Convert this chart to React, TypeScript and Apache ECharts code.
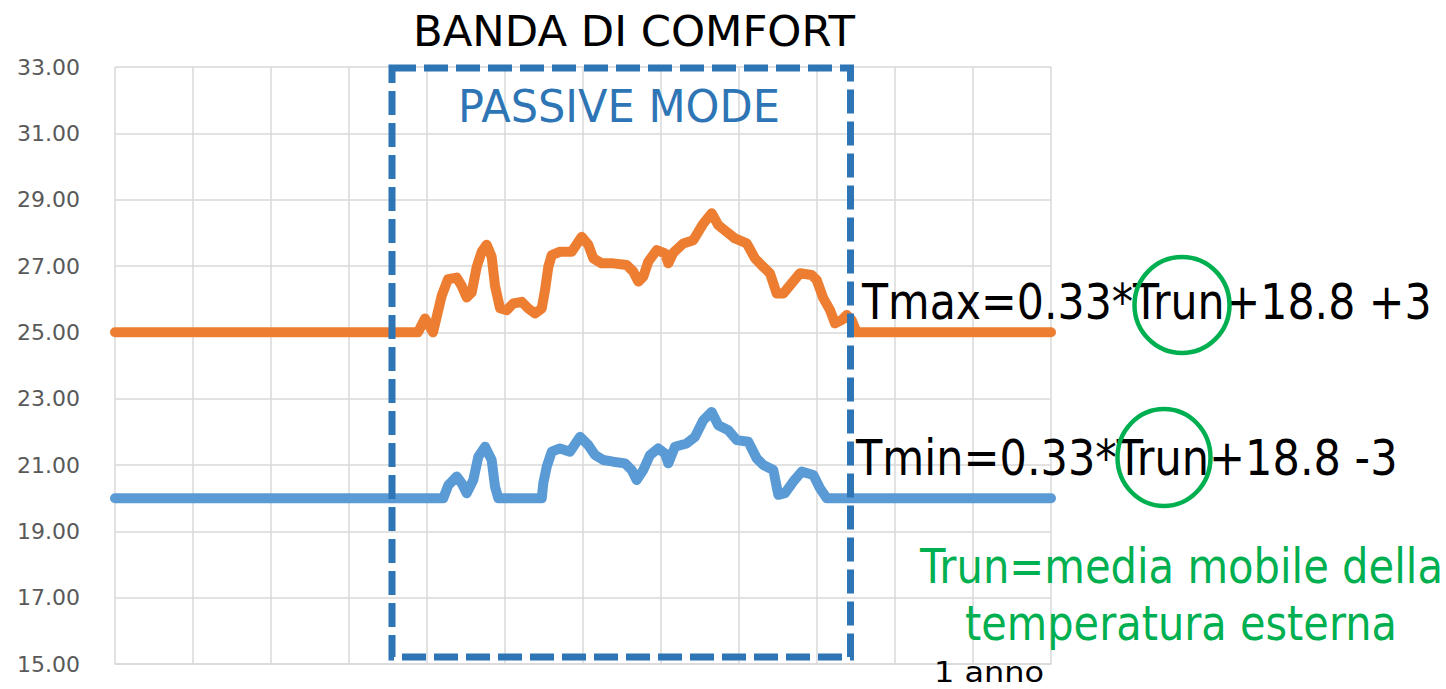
import React, { useEffect, useRef } from "react";
import * as echarts from "echarts";

// x = months over one year (0..12), y = temperature °C
const yTicks = { min: 15, max: 33, step: 2 };
const xTicks = { min: 0, max: 12, step: 1 };

const tmaxSeries: [number, number][] = [
  [0, 25], [3.885, 25], [3.974, 25.42], [4.077, 25.0], [4.188, 26.1], [4.269, 26.6],
  [4.381, 26.65], [4.445, 26.4], [4.509, 26.05], [4.573, 26.2], [4.637, 26.97],
  [4.701, 27.43], [4.765, 27.64], [4.829, 27.28], [4.872, 26.4], [4.936, 25.73],
  [5.022, 25.67], [5.106, 25.87], [5.214, 25.92], [5.299, 25.72], [5.385, 25.57],
  [5.471, 25.72], [5.513, 26.27], [5.555, 26.97], [5.599, 27.33], [5.705, 27.43],
  [5.855, 27.43], [5.983, 27.88], [6.068, 27.64], [6.132, 27.23], [6.24, 27.08],
  [6.388, 27.08], [6.56, 27.03], [6.645, 26.83], [6.709, 26.53], [6.773, 26.68],
  [6.837, 27.13], [6.945, 27.48], [7.051, 27.38], [7.094, 27.08], [7.158, 27.4],
  [7.286, 27.68], [7.414, 27.78], [7.542, 28.28], [7.65, 28.59], [7.735, 28.23],
  [7.842, 28.03], [7.949, 27.83], [8.099, 27.68], [8.205, 27.23], [8.312, 26.97],
  [8.397, 26.78], [8.483, 26.17], [8.568, 26.17], [8.676, 26.48], [8.782, 26.78],
  [8.932, 26.73], [8.996, 26.58], [9.081, 26.03], [9.167, 25.67], [9.231, 25.27],
  [9.317, 25.37], [9.381, 25.52], [9.445, 25.37], [9.509, 25.0], [12, 25],
];

const tminSeries: [number, number][] = [
  [0, 20], [4.209, 20], [4.273, 20.39], [4.381, 20.65], [4.445, 20.45], [4.509, 20.15],
  [4.594, 20.55], [4.658, 21.25], [4.744, 21.55], [4.829, 21.15], [4.872, 20.35],
  [4.914, 20.0], [5.471, 20.0], [5.491, 20.45], [5.535, 20.95], [5.599, 21.4],
  [5.705, 21.5], [5.833, 21.4], [5.962, 21.85], [6.068, 21.6], [6.154, 21.3],
  [6.26, 21.15], [6.388, 21.1], [6.538, 21.05], [6.624, 20.85], [6.688, 20.55],
  [6.773, 20.85], [6.859, 21.3], [6.965, 21.5], [7.051, 21.35], [7.094, 21.05],
  [7.179, 21.55], [7.329, 21.65], [7.436, 21.85], [7.542, 22.35], [7.65, 22.6],
  [7.735, 22.2], [7.863, 22.05], [7.971, 21.75], [8.119, 21.7], [8.227, 21.2],
  [8.312, 21.0], [8.44, 20.85], [8.504, 20.1], [8.59, 20.15], [8.696, 20.5],
  [8.804, 20.8], [8.953, 20.7], [9.038, 20.3], [9.124, 20.0], [12, 20],
];

const titleText = "BANDA DI COMFORT";
const modeText = "PASSIVE MODE";
const tmaxText = "Tmax=0.33*Trun+18.8 +3";
const tminText = "Tmin=0.33*Trun+18.8 -3";
const trunLine1 = "Trun=media mobile della";
const trunLine2 = "temperatura esterna";
const yearText = "1 anno";

const FONT = '"DejaVu Sans", Verdana, sans-serif';

function measure(text: string, size: number): number {
  const ctx = document.createElement("canvas").getContext("2d");
  if (!ctx) return text.length * size * 0.6;
  ctx.font = `${size}px ${FONT}`;
  return ctx.measureText(text).width;
}

function fitText(
  text: string,
  x: number,
  y: number,
  size: number,
  width: number,
  color: string,
  align: "left" | "center" = "left"
) {
  const natural = measure(text, size);
  return {
    type: "text",
    x,
    y,
    scaleX: width / natural,
    z: 100,
    style: {
      text,
      x: 0,
      y: 0,
      fill: color,
      font: `${size}px ${FONT}`,
      align,
      verticalAlign: "middle",
    },
  };
}

export default function App() {
  const ref = useRef<HTMLDivElement>(null);

  useEffect(() => {
    if (!ref.current) return;
    const chart = echarts.init(ref.current, undefined, { renderer: "svg" });
    const grey = "#D9D9D9";
    chart.setOption({
      animation: false,
      backgroundColor: "#ffffff",
      grid: { left: 115, right: 395, top: 67, bottom: 25, outerBoundsMode: "none" },
      xAxis: {
        type: "value",
        min: xTicks.min,
        max: xTicks.max,
        interval: xTicks.step,
        axisLabel: { show: false },
        axisTick: { show: false },
        axisLine: { show: true, lineStyle: { color: grey, width: 1.5 } },
        splitLine: { show: true, lineStyle: { color: grey, width: 1.5 } },
      },
      yAxis: {
        type: "value",
        min: yTicks.min,
        max: yTicks.max,
        interval: yTicks.step,
        axisLine: { show: false },
        axisTick: { show: false },
        axisLabel: {
          formatter: (v: number) => v.toFixed(2),
          color: "#595959",
          fontFamily: FONT,
          fontSize: 22,
          margin: 35,
        },
        splitLine: { show: true, lineStyle: { color: grey, width: 1.5 } },
      },
      series: [
        {
          name: "Tmax",
          type: "line",
          data: tmaxSeries,
          showSymbol: false,
          lineStyle: { color: "#ED7D31", width: 10, cap: "round", join: "round" },
          z: 3,
        },
        {
          name: "Tmin",
          type: "line",
          data: tminSeries,
          showSymbol: false,
          lineStyle: { color: "#5B9BD5", width: 10, cap: "round", join: "round" },
          z: 3,
        },
      ],
      graphic: [
        {
          type: "rect",
          z: 100,
          shape: { x: 392, y: 68, width: 458.5, height: 589 },
          style: {
            fill: "none",
            stroke: "#2E75B6",
            lineWidth: 7,
            lineDash: [24, 8],
          },
        },
        fitText(titleText, 413, 31, 43, 442, "#000000"),
        fitText(modeText, 458, 107, 44, 322, "#2E75B6"),
        fitText(tmaxText, 862, 302, 49, 570, "#000000"),
        fitText(tminText, 856, 458, 50, 542, "#000000"),
        fitText(trunLine1, 920, 566, 48, 523, "#00B050"),
        fitText(trunLine2, 1181, 623, 48, 432, "#00B050", "center"),
        fitText(yearText, 934, 672, 29, 110, "#000000"),
        {
          type: "ellipse",
          z: 101,
          shape: { cx: 1182, cy: 305, rx: 47.5, ry: 48 },
          style: { fill: "none", stroke: "#00B050", lineWidth: 4.5 },
        },
        {
          type: "ellipse",
          z: 101,
          shape: { cx: 1164, cy: 457.5, rx: 46.5, ry: 48.5 },
          style: { fill: "none", stroke: "#00B050", lineWidth: 4.5 },
        },
      ],
    });
    return () => chart.dispose();
  }, []);

  return (
    <div
      ref={ref}
      style={{ position: "fixed", left: 0, top: 0, width: 1446, height: 689, background: "#fff" }}
    />
  );
}
